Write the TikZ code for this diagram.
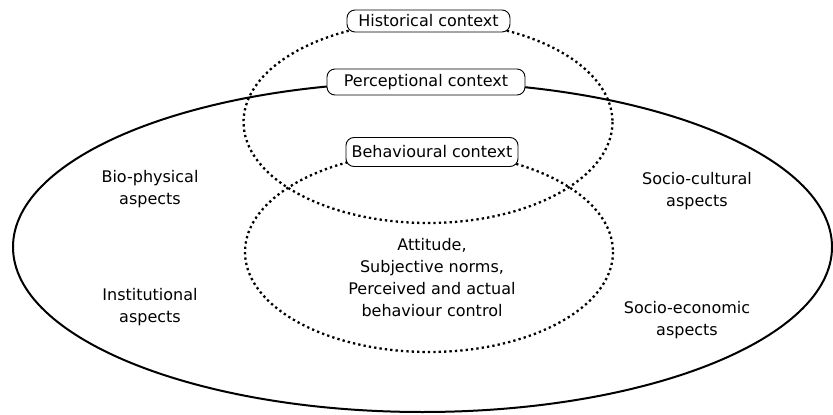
\documentclass[tikz,border=0pt]{standalone}
\usepackage{fontspec}
\setmainfont{DejaVu Sans}
\begin{document}
\begin{tikzpicture}[x=1pt,y=-1pt,
  solidring/.style={line width=2pt},
  dotring/.style={line width=2.3pt, dash pattern=on 2.3pt off 3.1pt},
  ctxbox/.style={draw, line width=0.9pt, rounded corners=8pt, fill=white,
    font=\fontsize{16}{19}\selectfont, inner sep=0pt, align=center},
  aspect/.style={font=\fontsize{16}{22}\selectfont, align=center}]
\useasboundingbox (0,0) rectangle (833,415);
% ellipses
\draw[solidring] (422.5,247) ellipse [x radius=409.5, y radius=165];
\draw[dotring] (428,122) ellipse [x radius=184.5, y radius=101];
\draw[dotring] (429,252) ellipse [x radius=184, y radius=100];
% context labels
\node[ctxbox, minimum width=163pt, minimum height=22pt] (hist) at (428.5,21) {Historical context};
\node[ctxbox, minimum width=198pt, minimum height=26pt] (perc) at (426,82) {Perceptional context};
\node[ctxbox, minimum width=172pt, minimum height=29pt] (beh) at (432,152) {Behavioural context};
% aspects
\node[aspect] (bio) at (150,189) {Bio-physical\\aspects};
\node[aspect] (inst) at (150,307) {Institutional\\aspects};
\node[aspect] (socc) at (697,191) {Socio-cultural\\aspects};
\node[aspect] (soce) at (687,320) {Socio-economic\\aspects};
\node[aspect] (core) at (432,278) {Attitude,\\Subjective norms,\\Perceived and actual\\behaviour control};
\end{tikzpicture}
\end{document}
